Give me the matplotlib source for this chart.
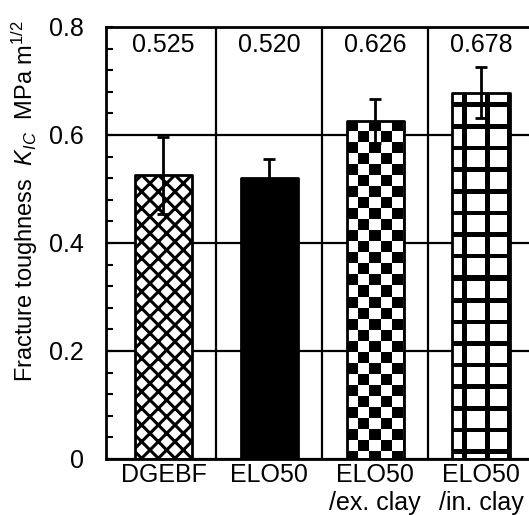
import numpy as np
import matplotlib
matplotlib.use("Agg")
import matplotlib.pyplot as plt
from matplotlib.ticker import MultipleLocator

samples = ["DGEBF", "ELO50", "ELO50\n/ex. clay", "ELO50\n/in. clay"]
kic_mean = [0.525, 0.520, 0.626, 0.678]
kic_err = [0.071, 0.035, 0.041, 0.047]
value_labels = ["0.525", "0.520", "0.626", "0.678"]
yticks = [0, 0.2, 0.4, 0.6, 0.8]
ytick_labels = ["0", "0.2", "0.4", "0.6", "0.8"]

plt.rcParams["font.family"] = ["Liberation Sans", "DejaVu Sans"]
plt.rcParams["mathtext.fontset"] = "custom"
plt.rcParams["mathtext.rm"] = "Liberation Sans"
plt.rcParams["mathtext.it"] = "Liberation Sans:italic"
plt.rcParams["hatch.linewidth"] = 2.2

fig = plt.figure(figsize=(5.29, 5.15), dpi=100)
ax = fig.add_axes([106 / 529, 56 / 515, 428 / 529, 432 / 515])
xlim = (-0.543, 3.5)
ylim = (0, 0.8)
ax.set_xlim(xlim)
ax.set_ylim(ylim)

x = np.arange(len(samples))
width = 0.54
faces = ["white", "black", "none", "none"]
bars = ax.bar(x, kic_mean, width, color=faces, edgecolor="black",
              linewidth=2, zorder=2)
for b in bars:
    b.set_joinstyle("round")
bars[0].set_hatch("xx")


def pattern_fill(bar, kind):
    # build the fill pixel by pixel, then clip it to the bar
    x0, y0 = ax.transData.transform((bar.get_x(), 0))
    x1, y1 = ax.transData.transform((bar.get_x() + bar.get_width(), bar.get_height()))
    w = int(round(x1 - x0))
    h = int(round(y1 - y0))
    r, c = np.indices((h, w))
    if kind == "checker":
        black = (r // 11 + c // 11) % 2 == 0
    else:
        black = ((r - 10) % 21.6 < 4.6) | ((c - 10) % 22 < 5)
    im = ax.imshow(np.where(black, 0.0, 1.0), cmap="gray", vmin=0, vmax=1,
                   interpolation="nearest", aspect="auto", zorder=1.8,
                   extent=(bar.get_x(), bar.get_x() + bar.get_width(), 0, bar.get_height()))
    im.set_clip_path(bar)


pattern_fill(bars[2], "checker")
pattern_fill(bars[3], "grid")

ax.errorbar(x, kic_mean, yerr=kic_err, fmt="none", ecolor="black",
            elinewidth=2, capsize=4.5, capthick=2, zorder=3)

for xi in x[:-1]:
    ax.axvline(xi + 0.5, color="black", lw=1.6, zorder=1)

for xi, lab in zip(x, value_labels):
    ax.text(xi, 0.767, lab, ha="center", va="center", fontsize=18)

ax.set_xlim(xlim)
ax.set_ylim(ylim)
ax.set_xticks(x)
ax.set_xticklabels(samples)
ax.set_yticks(yticks)
ax.set_yticklabels(ytick_labels)
ax.yaxis.set_minor_locator(MultipleLocator(0.04))
ax.tick_params(axis="y", which="both", direction="in", length=5, width=1.5,
               pad=16, labelsize=18)
ax.tick_params(axis="x", length=0, pad=3, labelsize=18)
ax.yaxis.grid(True, color="black", lw=1.6)
ax.set_axisbelow(True)
for s in ax.spines.values():
    s.set_linewidth(2)

ax.set_ylabel("Fracture toughness  $K_{IC}$  MPa m$^{1/2}$", fontsize=17)
ax.yaxis.set_label_coords(-0.155, 0.597)

fig.savefig("out.png", dpi=100)
